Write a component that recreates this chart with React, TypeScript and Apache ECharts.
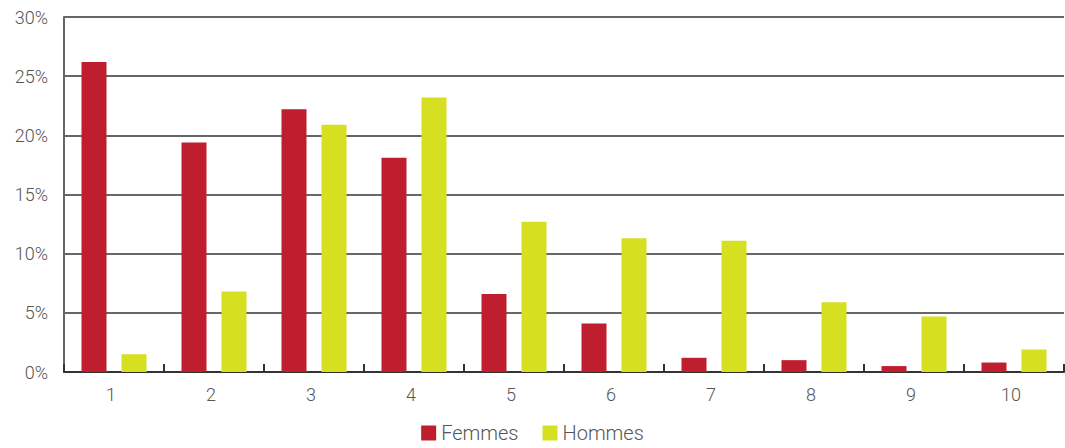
import React, { useEffect, useRef } from "react";
import * as echarts from "echarts";

const categories = ["1", "2", "3", "4", "5", "6", "7", "8", "9", "10"];
const femmes = [26.2, 19.4, 22.2, 18.1, 6.6, 4.1, 1.2, 1.0, 0.5, 0.8];
const hommes = [1.5, 6.8, 20.9, 23.2, 12.7, 11.3, 11.1, 5.9, 4.7, 1.9];
const yTicks = [0, 5, 10, 15, 20, 25, 30];

export default function App() {
  const ref = useRef<HTMLDivElement>(null);
  useEffect(() => {
    if (!ref.current) return;
    const chart = echarts.init(ref.current, undefined, { renderer: "svg" });
    const font = "Roboto";
    chart.setOption({
      animation: false,
      textStyle: { fontFamily: font },
      legend: {
        bottom: 0,
        left: "center",
        itemWidth: 15,
        itemHeight: 15,
        itemGap: 24,
        icon: "rect",
        textStyle: { fontSize: 20, color: "#555", fontFamily: font, fontWeight: 300 },
        data: ["Femmes", "Hommes"],
      },
      grid: { left: 64, right: 1, top: 17, bottom: 76, containLabel: false },
      xAxis: {
        type: "category",
        data: categories,
        axisLine: { lineStyle: { color: "#333", width: 2 } },
        axisTick: { show: true, inside: true, length: 8, lineStyle: { color: "#333", width: 2 } },
        axisLabel: { color: "#555", fontSize: 18, margin: 13, fontWeight: 300, padding: [0, 6, 0, 0] },
      },
      yAxis: {
        type: "value",
        min: yTicks[0],
        max: yTicks[yTicks.length - 1],
        interval: 5,
        axisLine: { show: true, lineStyle: { color: "#666", width: 2 } },
        axisTick: { show: false },
        splitLine: { lineStyle: { color: "#666", width: 2 } },
        axisLabel: { color: "#555", fontSize: 18, margin: 16, fontWeight: 300, formatter: "{value}%" },
      },
      series: [
        {
          name: "Femmes",
          type: "bar",
          data: femmes,
          barWidth: 25,
          barGap: "60%",
          itemStyle: { color: "#be1e2d" },
        },
        {
          name: "Hommes",
          type: "bar",
          data: hommes,
          barWidth: 25,
          itemStyle: { color: "#d7df21" },
        },
      ],
    });
    return () => chart.dispose();
  }, []);
  return (
    <div
      ref={ref}
      style={{ position: "absolute", left: 0, top: 0, width: 1065, height: 448 }}
    />
  );
}
